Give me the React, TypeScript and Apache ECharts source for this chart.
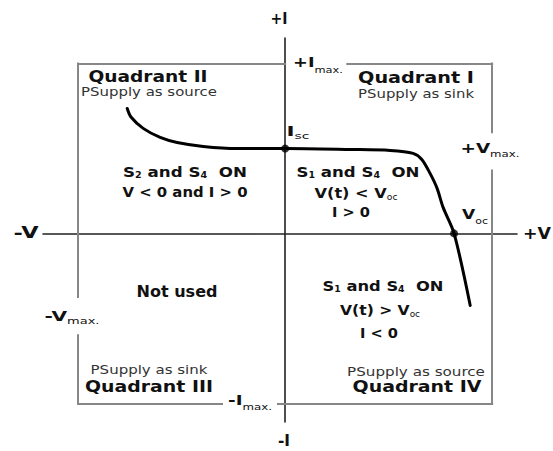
import React, { useEffect, useRef } from 'react';
import * as echarts from 'echarts';

// ---- data (arbitrary volt / current units) ----
const curveV = [-7.63, -7.45, -6.86, -6.04, -5.22, -3.96, -2.32, 0, 3.14, 5.07, 6.18, 6.6, 7.0, 7.34, 7.63, 8.16, 8.94];
const curveI = [7.35, 6.85, 6.18, 5.65, 5.35, 5.12, 5.0, 5.0, 4.94, 4.88, 4.71, 4.35, 3.53, 2.65, 1.53, 0, -4.24];
const pointNames = ['Isc', 'Voc'];
const pointV = [0, 8.16];
const pointI = [5.0, 0];
const V_LIMIT = 10;
const I_LIMIT = 10;
const V_RANGE = [-11.7, 11.2];
const I_RANGE = [-11.1, 11.5];
// frame around the four quadrants, with gaps left for the limit labels
const frameSegments = [
  [[-V_LIMIT, I_LIMIT], [0, I_LIMIT]],
  [[3.0, I_LIMIT], [V_LIMIT, I_LIMIT]],
  [[V_LIMIT, I_LIMIT], [V_LIMIT, 5.95]],
  [[V_LIMIT, 3.7], [V_LIMIT, -I_LIMIT]],
  [[V_LIMIT, -I_LIMIT], [-0.35, -I_LIMIT]],
  [[-3.05, -I_LIMIT], [-V_LIMIT, -I_LIMIT]],
  [[-V_LIMIT, -I_LIMIT], [-V_LIMIT, -6.0]],
  [[-V_LIMIT, -3.75], [-V_LIMIT, I_LIMIT]],
];

type Part = [string, boolean?];
interface Spec {
  parts: Part[]; cx: number; cy: number; w: number; fs: number;
  bold?: boolean; sfs?: number; off?: number; color?: string; subBold?: boolean;
}

const FAM = 'DejaVu Sans';

const textSpecs: Spec[] = [
  // axis ends
  { parts: [['+I']], cx: 279, cy: 19, w: 17, fs: 16, bold: true },
  { parts: [['-I']], cx: 284, cy: 441, w: 12, fs: 16, bold: true },
  { parts: [['-V']], cx: 26, cy: 233, w: 25, fs: 16, bold: true },
  { parts: [['+V']], cx: 537, cy: 233, w: 28, fs: 16, bold: true },
  // limits
  { parts: [['+I'], ['max.', true]], cx: 318, cy: 62, w: 50, fs: 14, bold: true, sfs: 9, off: 8 },
  { parts: [['-I'], ['max.', true]], cx: 250, cy: 400, w: 44, fs: 14, bold: true, sfs: 9, off: 7 },
  { parts: [['+V'], ['max.', true]], cx: 490, cy: 148, w: 59, fs: 14, bold: true, sfs: 9, off: 6 },
  { parts: [['-V'], ['max.', true]], cx: 72, cy: 316, w: 55, fs: 14, bold: true, sfs: 9, off: 5 },
  { parts: [['I'], ['sc', true]], cx: 298, cy: 131, w: 23, fs: 14, bold: true, sfs: 9, off: 5 },
  { parts: [['V'], ['oc', true]], cx: 475, cy: 215, w: 26, fs: 14, bold: true, sfs: 9, off: 6 },
  // quadrant titles
  { parts: [['Quadrant II']], cx: 148, cy: 77, w: 119, fs: 15, bold: true },
  { parts: [['Quadrant I']], cx: 416, cy: 78, w: 116, fs: 15, bold: true },
  { parts: [['Quadrant III']], cx: 149, cy: 387, w: 128, fs: 15, bold: true },
  { parts: [['Quadrant IV']], cx: 417, cy: 387, w: 129, fs: 15, bold: true },
  { parts: [['PSupply as source']], cx: 149, cy: 92, w: 136, fs: 11.5, color: '#333' },
  { parts: [['PSupply as sink']], cx: 416, cy: 94, w: 116, fs: 11.5, color: '#333' },
  { parts: [['PSupply as sink']], cx: 149, cy: 370, w: 117, fs: 11.5, color: '#333' },
  { parts: [['PSupply as source']], cx: 416, cy: 372, w: 138, fs: 11.5, color: '#333' },
  // region descriptions
  { parts: [['S'], ['2', true], [' and S'], ['4', true], ['  ON']], cx: 185, cy: 172, w: 124, fs: 14, bold: true, sfs: 8, off: 3, subBold: true },
  { parts: [['V < 0 and I > 0']], cx: 185, cy: 192, w: 125, fs: 14, bold: true },
  { parts: [['S'], ['1', true], [' and S'], ['4', true], ['  ON']], cx: 358, cy: 172, w: 123, fs: 14, bold: true, sfs: 8, off: 3, subBold: true },
  { parts: [['V(t) < V'], ['oc', true]], cx: 356, cy: 193, w: 83, fs: 14, bold: true, sfs: 8, off: 4 },
  { parts: [['I > 0']], cx: 351, cy: 212, w: 38, fs: 14, bold: true },
  { parts: [['S'], ['1', true], [' and S'], ['4', true], ['  ON']], cx: 383, cy: 286, w: 121, fs: 14, bold: true, sfs: 8, off: 3, subBold: true },
  { parts: [['V(t) > V'], ['oc', true]], cx: 380, cy: 310, w: 80, fs: 14, bold: true, sfs: 8, off: 4 },
  { parts: [['I < 0']], cx: 379, cy: 333, w: 38, fs: 14, bold: true },
  { parts: [['Not used']], cx: 177, cy: 292, w: 81, fs: 15, bold: true },
];

function makeMeasure() {
  const ctx = document.createElement('canvas').getContext('2d');
  return (t: string, font: string) => {
    if (!ctx) return t.length * 8;
    ctx.font = font;
    return ctx.measureText(t).width;
  };
}

function makeText(s: Spec, measure: (t: string, f: string) => number) {
  const color = s.color || '#111';
  const sfs = s.sfs ?? 9;
  const off = s.off ?? 0;
  const mainW = s.bold ? 'bold' : 'normal';
  const subW = s.subBold ? 'bold' : 'normal';
  const hasSub = s.parts.some((p) => p[1]);
  let width = 0;
  const str = s.parts
    .map(([t, sub]) => {
      const font = sub ? `${subW} ${sfs}px "${FAM}"` : `${mainW} ${s.fs}px "${FAM}"`;
      width += measure(t, font);
      return `{${sub ? 's' : 'm'}|${t}}`;
    })
    .join('');
  const lh = hasSub ? Math.max(2 * off + sfs, s.fs) : s.fs + 4;
  return {
    type: 'text',
    x: s.cx,
    y: s.cy,
    scaleX: width > 0 ? s.w / width : 1,
    silent: true,
    z: 10,
    style: {
      text: str,
      textAlign: 'center',
      textVerticalAlign: 'middle',
      fill: color,
      fontFamily: FAM,
      fontSize: s.fs,
      rich: {
        m: { fontFamily: FAM, fontSize: s.fs, fontWeight: mainW, fill: color, lineHeight: lh },
        s: { fontFamily: FAM, fontSize: sfs, fontWeight: subW, fill: color, lineHeight: sfs, verticalAlign: 'bottom' },
      },
    },
  };
}

export default function App() {
  const ref = useRef<HTMLDivElement>(null);
  useEffect(() => {
    if (!ref.current) return;
    const chart = echarts.init(ref.current, undefined, { renderer: 'svg' });
    const measure = makeMeasure();
    const axisCommon = {
      type: 'value' as const,
      axisLine: { show: true, onZero: true, lineStyle: { color: '#222', width: 1.6 } },
      axisTick: { show: false },
      axisLabel: { show: false },
      splitLine: { show: false },
    };
    chart.setOption({
      animation: false,
      backgroundColor: '#fff',
      grid: { left: 43, right: 36, top: 38, bottom: 29 },
      xAxis: { ...axisCommon, min: V_RANGE[0], max: V_RANGE[1] },
      yAxis: { ...axisCommon, min: I_RANGE[0], max: I_RANGE[1] },
      series: [
        {
          type: 'lines',
          coordinateSystem: 'cartesian2d',
          silent: true,
          data: frameSegments.map((c) => ({ coords: c })),
          lineStyle: { color: '#878787', width: 2, opacity: 1, curveness: 0, cap: 'square' },
          z: 1,
        },
        {
          type: 'line',
          data: curveV.map((v, i) => [v, curveI[i]]),
          smooth: 0.3,
          showSymbol: false,
          lineStyle: { color: '#000', width: 3, join: 'round', cap: 'round' },
          z: 3,
        },
        {
          type: 'scatter',
          data: pointV.map((v, i) => ({ name: pointNames[i], value: [v, pointI[i]] })),
          symbolSize: 8,
          itemStyle: { color: '#000' },
          z: 4,
        },
      ],
      graphic: { elements: textSpecs.map((s) => makeText(s, measure)) },
    });
    return () => chart.dispose();
  }, []);
  return (
    <div
      ref={ref}
      style={{ position: 'fixed', left: 0, top: 0, width: 553, height: 451, background: '#fff' }}
    />
  );
}
